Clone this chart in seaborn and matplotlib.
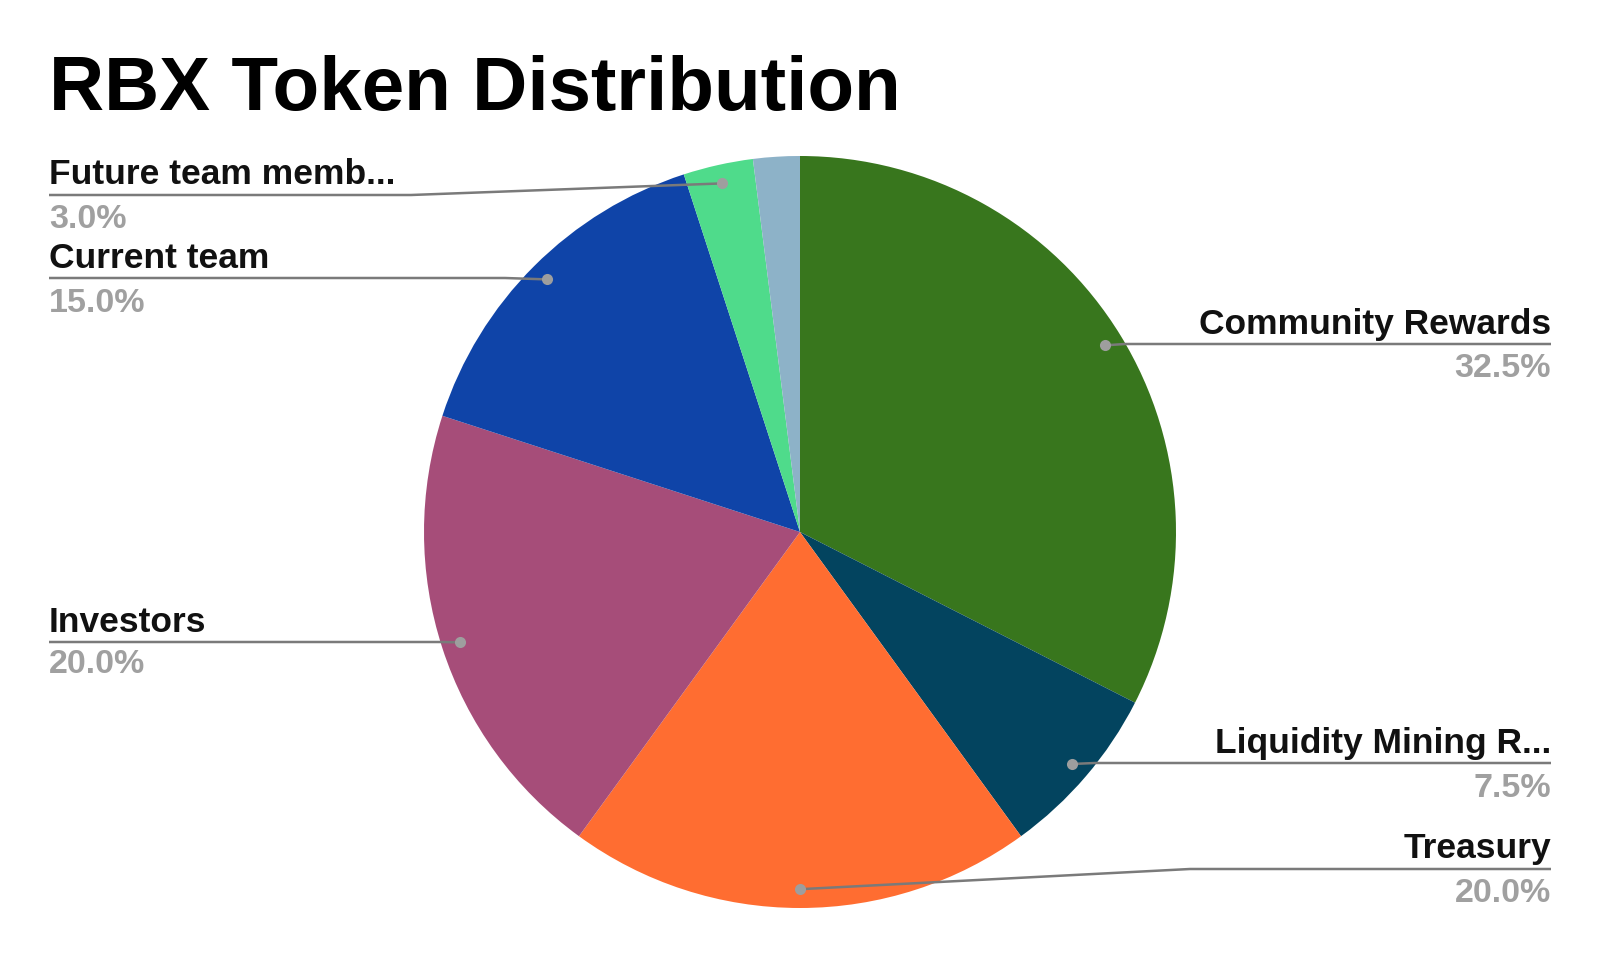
import numpy as np
import matplotlib
matplotlib.use("Agg")
import matplotlib.pyplot as plt
import seaborn as sns

# ---- data ----
categories = ["Community Rewards", "Liquidity Mining R...", "Treasury", "Investors",
              "Current team", "Future team memb...", "Other"]
shares = [32.5, 7.5, 20.0, 20.0, 15.0, 3.0, 2.0]
show_label = [True, True, True, True, True, True, False]
colors = ["#38761d", "#03445f", "#ff6d31", "#a64d79", "#0f44a8", "#4fdb8b", "#8db2c8"]

# ---- layout (pixel space, y measured from top) ----
W, H = 1600, 956
CX, CY, R = 800, 532, 376
# side, name baseline, leader line y, pct baseline, elbow x
label_layout = {
    "Community Rewards":     ("right", 334, 344, 377, 1125),
    "Liquidity Mining R...": ("right", 753, 763, 797, 1095),
    "Treasury":              ("right", 858, 869, 902, 1190),
    "Investors":             ("left",  632, 642, 673, 440),
    "Current team":          ("left",  268, 278, 312, 505),
    "Future team memb...":   ("left",  184, 195, 228, 411),
}
LEFT_X, RIGHT_X = 49, 1551

sns.set_theme(style="white")
plt.rcParams["font.family"] = ["Liberation Sans", "DejaVu Sans"]

fig = plt.figure(figsize=(W / 100, H / 100), dpi=100)
ax = fig.add_axes([0, 0, 1, 1])

def Y(py):
    return H - py

wedges, _ = ax.pie(shares, colors=colors, startangle=90, counterclock=False,
                   radius=R, center=(CX, Y(CY)),
                   wedgeprops=dict(linewidth=0.5, edgecolor="none"))
ax.set_xlim(0, W)
ax.set_ylim(0, H)
ax.set_aspect("equal")
ax.axis("off")

line_col = "#7a7a7a"
dot_col = "#9e9e9e"
for w, name, val, show in zip(wedges, categories, shares, show_label):
    if not show:
        continue
    mid = np.deg2rad((w.theta1 + w.theta2) / 2)
    dx = CX + 0.95 * R * np.cos(mid)
    dy = Y(CY) + 0.95 * R * np.sin(mid)
    side, nb, ly, pb, ex = label_layout[name]
    edge = LEFT_X if side == "left" else RIGHT_X
    ax.plot([dx, ex, edge], [dy, Y(ly), Y(ly)], color=line_col, lw=1.8,
            solid_capstyle="butt", zorder=3)
    ax.plot([dx], [dy], "o", color=dot_col, ms=8, zorder=4, mec="none")
    ha = "left" if side == "left" else "right"
    ax.text(edge, Y(nb), name, ha=ha, va="baseline", fontsize=25.5,
            fontweight="bold", color="#111111")
    ax.text(edge, Y(pb), f"{val:.1f}%", ha=ha, va="baseline", fontsize=24.5,
            fontweight="bold", color="#a0a0a0")

ax.text(49, Y(110), "RBX Token Distribution", ha="left", va="baseline",
        fontsize=55, fontweight="bold", color="#000000")

fig.savefig("out.png", dpi=100, facecolor="white")
